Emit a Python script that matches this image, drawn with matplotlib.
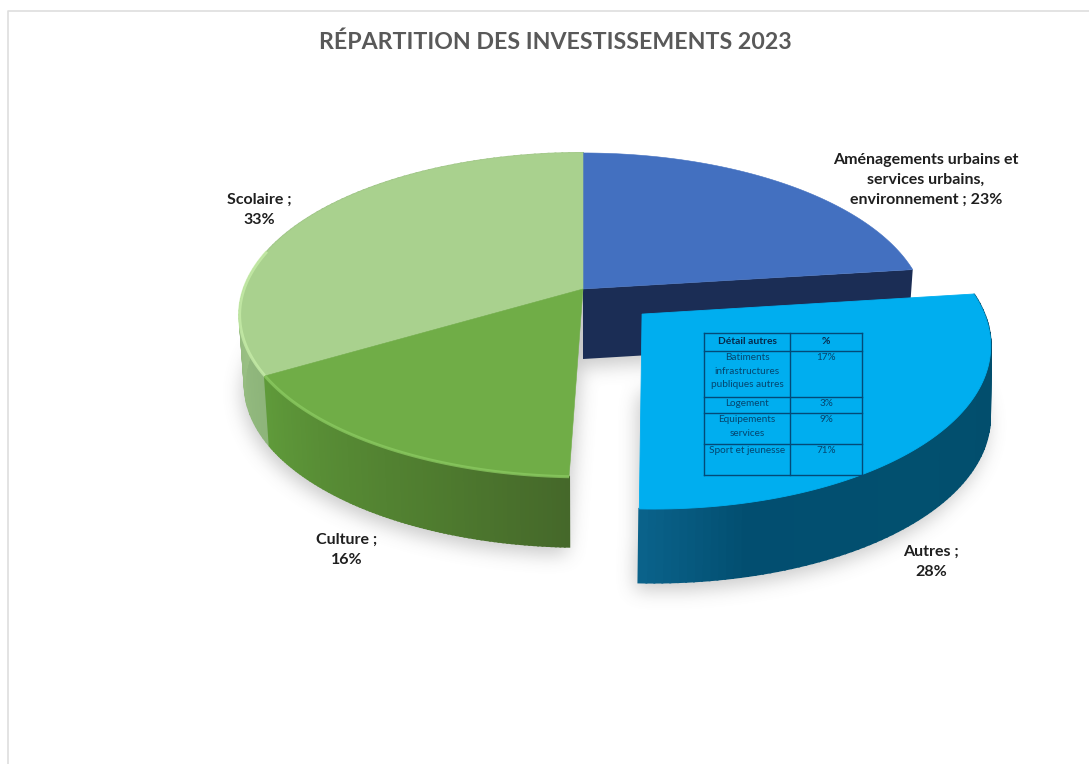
import numpy as np
import matplotlib
matplotlib.use("Agg")
import matplotlib.pyplot as plt
from matplotlib.path import Path
from matplotlib.colors import to_rgb

# ---- data ----
title = "RÉPARTITION DES INVESTISSEMENTS 2023"
categories = ["Aménagements urbains et\nservices urbains,\nenvironnement", "Autres", "Culture", "Scolaire"]
label_texts = ["Aménagements urbains et\nservices urbains,\nenvironnement ; 23%", "Autres ;\n28%", "Culture ;\n16%", "Scolaire ;\n33%"]
shares = [23.0, 27.55, 16.0, 33.45]
exploded = [0.0, 0.23, 0.0, 0.0]

table_header = ["Détail autres", "%"]
table_items = ["Batiments\ninfrastructures\npubliques autres", "Logement", "Equipements\nservices", "Sport et jeunesse"]
table_values = ["17%", "3%", "9%", "71%"]

# ---- styles ----
W, H = 1089, 764
CX, CY, R, RY, K = 583.0, 289.0, 339.0, 157.8, 0.16
DEPTH, XSHRINK = 70.0, 0.985
RIM = 0.985
top_colors = ["#4370c0", "#00aeef", "#70ad47", "#a9d18e"]
cut_color = "#1b2d55"
wall_stops = [
    None,
    [(0.0, "#024c6b"), (0.55, "#02506f"), (0.85, "#024e70"), (1.0, "#0a628a")],
    [(0.0, "#45682a"), (0.35, "#4f7c2f"), (1.0, "#5f9a3a")],
    [(0.0, "#8db47a"), (0.3, "#9cc285"), (1.0, "#a5c98c")],
]
bevel_colors = [None, None, "#8ccb62", "#c8eeaa"]
TEXT = "#1f1f1f"


def project(theta, scale=1.0, off=(0.0, 0.0), lower=False):
    """Circle angle (clockwise from the top) to picture coordinates."""
    u = scale * np.sin(theta) + off[0]
    v = -scale * np.cos(theta) + off[1]
    s = 1.0 / (1.0 - K * v)
    x, y = R * u * s, RY * v * s
    if lower:
        return CX + XSHRINK * x, CY + y + DEPTH
    return CX + x, CY + y


def blend(stops, t):
    pos = [p for p, _ in stops]
    rgb = np.array([to_rgb(c) for _, c in stops])
    return tuple(np.interp(t, pos, rgb[:, i]) for i in range(3))


fig = plt.figure(figsize=(W / 100, H / 100), dpi=100, facecolor="white")
ax = fig.add_axes([0, 0, 1, 1])
ax.set_xlim(0, W)
ax.set_ylim(H, 0)
ax.axis("off")

# frame of the chart area (only the top and left sides are in the picture)
ax.plot([8, 8, W], [H, 10.5, 10.5], color="#dedede", lw=1.2, zorder=1)

edges = np.radians(np.concatenate([[0], np.cumsum(shares)]) * 3.6)
wedges = []
for i, share in enumerate(shares):
    mid = 0.5 * (edges[i] + edges[i + 1])
    off = (exploded[i] * np.sin(mid), -exploded[i] * np.cos(mid))
    th = np.linspace(edges[i], edges[i + 1], 90)
    wedges.append((th, off))

# soft shadow under the pie
gx, gy = np.meshgrid(np.arange(0, W, 2), np.arange(0, H, 2))
pts = np.column_stack([gx.ravel(), gy.ravel()])
mask = np.zeros(gx.size, dtype=bool)
for th, off in wedges:
    bx, by = project(th, off=off, lower=True)
    ox, oy = project(np.array([0.0]), scale=0.0, off=off, lower=True)
    poly = np.column_stack([np.r_[ox, bx], np.r_[oy, by]]) + [-3, 7]
    mask |= Path(poly).contains_points(pts)
shadow = mask.reshape(gx.shape).astype(float)
kern = np.ones(9) / 9
for _ in range(3):
    shadow = np.apply_along_axis(lambda r: np.convolve(r, kern, mode="same"), 0, shadow)
    shadow = np.apply_along_axis(lambda r: np.convolve(r, kern, mode="same"), 1, shadow)
rgba = np.zeros(shadow.shape + (4,))
rgba[..., :3] = 0.45
rgba[..., 3] = shadow * 0.38
ax.imshow(rgba, extent=(0, W, H, 0), zorder=2, aspect="auto", interpolation="bilinear")
ax.set_xlim(0, W)
ax.set_ylim(H, 0)

# walls: back to front
for i in [3, 2]:
    th, off = wedges[i]
    for a, b, t in zip(th[:-1], th[1:], np.linspace(0, 1, len(th) - 1)):
        seg = np.array([a, b])
        tx, ty = project(seg, off=off)
        bx, by = project(seg, off=off, lower=True)
        c = blend(wall_stops[i], t)
        ax.fill(np.r_[tx, bx[::-1]], np.r_[ty, by[::-1]], color=c, lw=1.4, zorder=3)

# cut face of the first wedge, seen through the opening
a = edges[1]
tx, ty = project(np.array([a]))
bx, by = project(np.array([a]), lower=True)
ox, oy = project(np.array([a]), scale=0.0)
obx, oby = project(np.array([a]), scale=0.0, lower=True)
ax.fill([ox[0], tx[0], bx[0], obx[0]], [oy[0], ty[0], by[0], oby[0]], color=cut_color, lw=0, zorder=4)

# top faces of the non-exploded wedges
for i in [0, 3, 2]:
    th, off = wedges[i]
    x, y = project(th, off=off)
    ox, oy = project(np.array([0.0]), scale=0.0, off=off)
    ax.fill(np.r_[ox, x], np.r_[oy, y], color=top_colors[i], lw=0.4, zorder=5)
    if bevel_colors[i]:
        lit = th < np.radians(285)
        ax.plot(x[lit], y[lit], color=bevel_colors[i], lw=2.2, alpha=0.75, zorder=6, solid_capstyle="butt")

# exploded wedge
th, off = wedges[1]
for a, b, t in zip(th[:-1], th[1:], np.linspace(0, 1, len(th) - 1)):
    seg = np.array([a, b])
    tx, ty = project(seg, scale=RIM, off=off)
    bx, by = project(seg, off=off, lower=True)
    ax.fill(np.r_[tx, bx[::-1]], np.r_[ty, by[::-1]], color=blend(wall_stops[1], t), lw=1.4, zorder=7)
x, y = project(th, scale=RIM, off=off)
ox, oy = project(np.array([0.0]), scale=0.0, off=off)
ax.fill(np.r_[ox, x], np.r_[oy, y], color=top_colors[1], lw=0.6, zorder=8)

# data labels
font = ["Lato", "DejaVu Sans"]
label_pos = [(926, 180), (931, 562), (347, 550), (259, 210)]
for txt, (px, py) in zip(label_texts, label_pos):
    ax.text(px, py, txt, ha="center", va="center", fontsize=11.5, fontweight="bold",
            color=TEXT, family=font, linespacing=1.55, zorder=10)

ax.text(555, 42, title, ha="center", va="center", fontsize=16.7, fontweight="bold",
        color="#595959", family=font, zorder=10)

# table printed on the exploded wedge
line_col = "#034a78"
tx0, tx1, tx2 = 704, 790, 862
rows_y = [333, 351, 397, 413, 444, 475]
for yy in rows_y:
    ax.plot([tx0, tx2], [yy, yy], color=line_col, lw=1.0, zorder=11)
for xx in (tx0, tx1, tx2):
    ax.plot([xx, xx], [rows_y[0], rows_y[-1]], color=line_col, lw=1.0, zorder=11)
ax.text((tx0 + tx1) / 2, 342, table_header[0], ha="center", va="center", fontsize=7.4,
        fontweight="bold", color="#06284a", family=font, zorder=12)
ax.text((tx1 + tx2) / 2, 342, table_header[1], ha="center", va="center", fontsize=7.4,
        fontweight="bold", color="#06284a", family=font, zorder=12)
for j, (item, val) in enumerate(zip(table_items, table_values)):
    ytop = rows_y[j + 1] + 2
    ax.text((tx0 + tx1) / 2, ytop, item, ha="center", va="top", fontsize=7.2,
            color="#05456f", family=font, linespacing=1.65, zorder=12)
    ax.text((tx1 + tx2) / 2, ytop, val, ha="center", va="top", fontsize=7.2,
            color="#05456f", family=font, zorder=12)

fig.savefig("out.png", dpi=100, facecolor="white")
